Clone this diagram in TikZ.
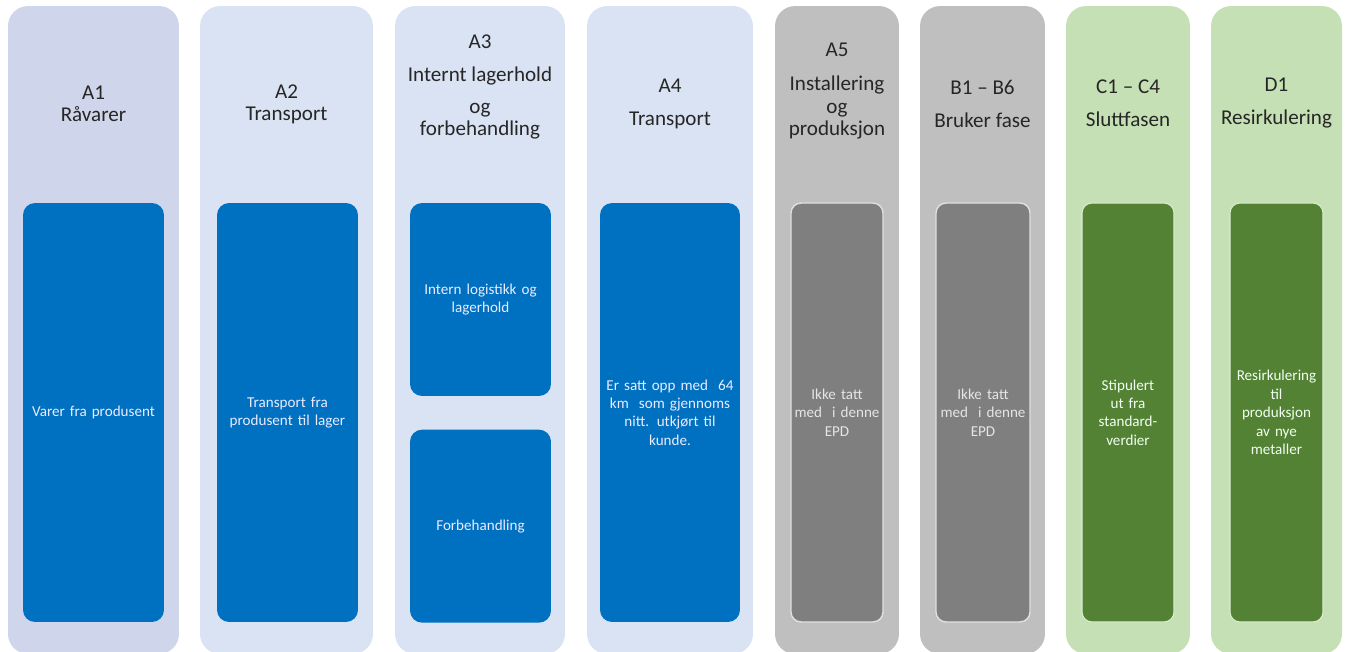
\documentclass[tikz,border=0pt]{standalone}
\usepackage{fontspec}
\setmainfont{Carlito}
\usetikzlibrary{positioning}
\definecolor{lavender}{HTML}{CFD5EA}
\definecolor{paleblue}{HTML}{DAE3F3}
\definecolor{palegray}{HTML}{BFBFBF}
\definecolor{palegreen}{HTML}{C5E0B4}
\definecolor{deepblue}{HTML}{0070C0}
\definecolor{midgray}{HTML}{7F7F7F}
\definecolor{deepgreen}{HTML}{548235}
\definecolor{headtext}{HTML}{262626}
\tikzstyle{every node} = [
		align = center,
		inner sep = .05cm,
	]
\tikzstyle{column} = [
		rectangle,
		rounded corners = .4cm,
		minimum height = 12.96cm,
		draw = none
	]
\tikzstyle{heading} = [
		font = \fontsize{12}{12.5}\selectfont,
		text = headtext
	]
\tikzstyle{stage} = [
		rectangle,
		font = \fontsize{8.6}{10.5}\selectfont,
		minimum height = 8.38cm,
		text centered
	]
\tikzstyle{bluebox} = [
		stage,
		rounded corners = .24cm,
		fill = deepblue,
		text = blue!8!white,
		minimum width = 2.82cm,
		text width = 2.68cm
	]
\tikzstyle{graybox} = [
		stage,
		rounded corners = .2cm,
		fill = midgray,
		draw = white!88!black,
		line width = .8pt,
		text = white!90!black,
		minimum width = 1.84cm,
		text width = 1.7cm
	]
\tikzstyle{greenbox} = [
		stage,
		rounded corners = .2cm,
		fill = deepgreen,
		draw = palegreen!60!white,
		line width = .6pt,
		text = green!6!white,
		minimum width = 1.84cm,
		text width = 1.7cm
	]

\begin{document}
\begin{tikzpicture}[x = .02cm, y = -.02cm]
	\useasboundingbox (0,0) rectangle (1346,652);

		%------------------------------Columns------------------------------
		\node [column, fill=lavender, minimum width=3.42cm] (a1) at (93.5,330) {};
		\node [column, fill=paleblue, minimum width=3.46cm] (a2) at (286.5,330) {};
		\node [column, fill=paleblue, minimum width=3.40cm] (a3) at (480,330) {};
		\node [column, fill=paleblue, minimum width=3.32cm] (a4) at (670,330) {};
		\node [column, fill=palegray, minimum width=2.48cm] (a5) at (837,330) {};
		\node [column, fill=palegray, minimum width=2.50cm] (b) at (982.5,330) {};
		\node [column, fill=palegreen, minimum width=2.48cm] (c) at (1128,330) {};
		\node [column, fill=palegreen, minimum width=2.62cm] (d) at (1276.5,330) {};

		%------------------------------Headings------------------------------
		\node [heading] (a1 head) at (93.5,104) {A1\\Råvarer};
		\node [heading] (a2 head) at (286.5,104) {A2\\Transport};
		\node [heading] (a3 head) at (480,87) {A3\\[6.3pt]Internt lagerhold\\[6pt]og\\forbehandling};
		\node [heading] (a4 head) at (670,103.5) {A4\\[6.3pt]Transport};
		\node [heading] (a5 head) at (837,91) {A5\\[6.8pt]Installering\\[1pt]og\\produksjon};
		\node [heading] (b head) at (982.5,103.5) {B1 – B6\\[6.3pt]Bruker fase};
		\node [heading] (c head) at (1128,103.5) {C1 – C4\\[6.3pt]Sluttfasen};
		\node [heading] (d head) at (1276.5,103.5) {D1\\[6.3pt]Resirkulering};

		%------------------------------Stages------------------------------
		\node [bluebox] (a1 box) at (93.5,412.5) {Varer fra produsent};
		\node [bluebox] (a2 box) at (287.5,412.5) {Transport fra\\produsent til lager};
		\node [bluebox, minimum height=3.86cm] (a3 top) at (480.5,299.5) {Intern logistikk og\\lagerhold};
		\node [bluebox, minimum height=3.86cm, below=.66cm of a3 top] (a3 bottom) {Forbehandling};
		\node [bluebox, minimum width=2.80cm] (a4 box) at (670,412.5) {Er satt opp med~ 64\\km~ som gjennoms\\nitt. utkjørt til\\kunde.};
		\node [graybox] (a5 box) at (837,412.5) {Ikke tatt\\med~ i denne\\EPD};
		\node [graybox, minimum width=1.88cm] (b box) at (983,412.5) {Ikke tatt\\med~ i denne\\EPD};
		\node [greenbox] (c box) at (1128,412.5) {Stipulert\\ut fra\\standard-\\verdier};
		\node [greenbox, minimum width=1.86cm] (d box) at (1276.5,412.5) {Resirkulering\\til\\produksjon\\av nye\\metaller};

\end{tikzpicture}
\end{document}
